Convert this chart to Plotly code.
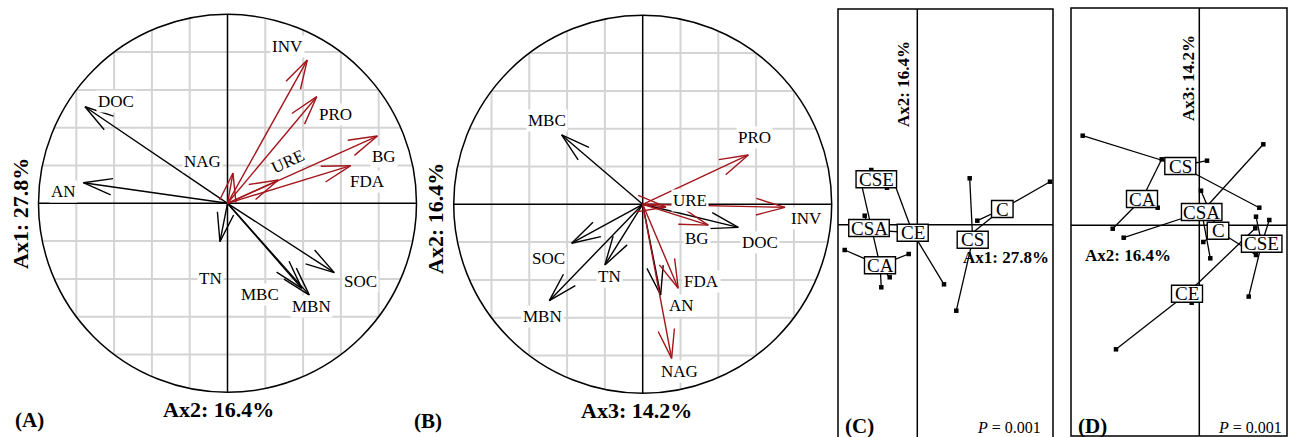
import numpy as np
import plotly.graph_objects as go

W, H = 1290, 437
FONT = "Liberation Serif"
RED = "#A3161B"

# ---------------- Panel A (Ax2 horizontal, Ax1 vertical) ----------------
a_black_vars = ["DOC", "AN", "TN", "MBC", "MBN", "SOC"]
a_black_x = [-0.754, -0.763, -0.040, 0.393, 0.433, 0.565]
a_black_y = [0.511, 0.109, -0.203, -0.450, -0.486, -0.367]
a_red_vars = ["INV", "PRO", "BG", "FDA", "URE", "NAG"]
a_red_x = [0.422, 0.472, 0.793, 0.652, 0.269, 0.029]
a_red_y = [0.758, 0.564, 0.356, 0.199, 0.123, 0.160]
a_lab_vars = ["DOC", "AN", "TN", "MBC", "MBN", "SOC", "INV", "PRO", "BG", "FDA", "URE", "NAG"]
a_lab_x = [-0.59, -0.87, -0.09, 0.17, 0.447, 0.706, 0.315, 0.57, 0.83, 0.74, 0.32, -0.13]
a_lab_y = [0.54, 0.065, -0.40, -0.485, -0.546, -0.414, 0.83, 0.47, 0.25, 0.115, 0.22, 0.22]

# ---------------- Panel B (Ax3 horizontal, Ax2 vertical) ----------------
b_black_vars = ["MBC", "SOC", "MBN", "TN", "DOC", "AN"]
b_black_x = [-0.429, -0.376, -0.494, -0.200, 0.506, 0.095]
b_black_y = [0.367, -0.206, -0.510, -0.321, -0.122, -0.480]
b_red_vars = ["PRO", "INV", "BG", "FDA", "NAG", "URE"]
b_red_x = [0.559, 0.753, 0.347, 0.188, 0.153, 0.123]
b_red_y = [0.261, -0.016, -0.110, -0.444, -0.815, -0.014]
b_lab_vars = ["MBC", "SOC", "MBN", "TN", "DOC", "AN", "PRO", "INV", "BG", "FDA", "NAG", "URE"]
b_lab_x = [-0.508, -0.496, -0.528, -0.178, 0.62, 0.203, 0.589, 0.869, 0.286, 0.312, 0.195, 0.25]
b_lab_y = [0.443, -0.287, -0.594, -0.382, -0.202, -0.533, 0.353, -0.075, -0.181, -0.41, -0.885, 0.02]

# ---------------- Panel C (Ax1 horizontal, Ax2 vertical) ----------------
c_groups = ["CSE", "CSA", "CA", "CE", "CS", "C"]
c_cx = [-0.410, -0.483, -0.373, -0.046, 0.554, 0.850]
c_cy = [0.454, -0.033, -0.406, -0.080, -0.150, 0.157]
c_sample_group = ["CSE", "CSE", "CSA", "CA", "CA", "CA", "CA", "CA",
                  "CE", "CE", "CE", "CS", "CS", "C", "C", "C"]
c_sample_x = [-0.460, -0.303, -0.526, -0.726, -0.086, -0.276, -0.360, -0.560,
              0.267, -0.253, -0.573, 0.524, 0.390, 1.327, 0.600, 0.487]
c_sample_y = [0.547, 0.370, 0.090, -0.253, -0.293, -0.526, -0.626, 0.414,
              -0.596, 0.477, -0.048, 0.464, -0.860, 0.430, 0.040, -0.133]

# ---------------- Panel D (Ax2 horizontal, Ax3 vertical) ----------------
d_groups = ["CS", "CA", "CSA", "C", "CSE", "CE"]
d_cx = [-0.190, -0.573, 0.024, 0.187, 0.624, -0.123]
d_cy = [0.593, 0.263, 0.133, -0.054, -0.184, -0.684]
d_sample_group = ["CS", "CS", "CS", "CA", "CA", "CA", "CSA", "CSA", "CSA",
                  "C", "C", "C", "CSE", "CSE", "CSE", "CE", "CE", "CE"]
d_sample_x = [-1.166, 0.077, 0.600, -0.376, -0.416, -0.866, -0.756, 0.640, 0.110,
              0.017, 0.040, 0.567, 0.567, 0.700, 0.494, -0.833, -0.076, 0.560]
d_sample_y = [0.896, 0.646, 0.176, 0.660, 0.176, -0.034, -0.124, 0.810, -0.330,
              0.346, -0.167, -0.297, 0.086, 0.053, -0.713, -1.240, -0.774, -0.030]

# ---------------- layout geometry (pixels) ----------------
panels = {
    # name: (x0px, x1px, cx, cy, px_per_unit)
    "A": (0, 425, 227.5, 203.3, 189.0),
    "B": (428, 836, 642.7, 204.3, 189.0),
    "C": (838, 1053, 917.3, 224.7, 100.0),
    "D": (1071, 1287, 1199.3, 225.3, 100.0),
}
axis_ids = {"A": "", "B": "2", "C": "3", "D": "4"}

fig = go.Figure()
layout_axes = {}
for name, (x0, x1, cx, cy, s) in panels.items():
    k = axis_ids[name]
    layout_axes["xaxis" + k] = dict(domain=[x0 / W, x1 / W], range=[(x0 - cx) / s, (x1 - cx) / s],
                                    visible=False, showgrid=False, zeroline=False, fixedrange=True,
                                    anchor="y" + k)
    layout_axes["yaxis" + k] = dict(domain=[0, 1], range=[(cy - H) / s, cy / s],
                                    visible=False, showgrid=False, zeroline=False, fixedrange=True,
                                    anchor="x" + k)

shapes = []
annotations = []


def px2paper(px, py):
    return px / W, 1 - py / H


def arrows(xs, ys, L, ang_deg=15):
    X, Y = [], []
    ang = np.deg2rad(ang_deg)
    for x, y in zip(xs, ys):
        n = np.hypot(x, y)
        ux, uy = x / n, y / n
        X += [0, x, None]
        Y += [0, y, None]
        wings = []
        for sgn in (1, -1):
            c, si = np.cos(sgn * ang), np.sin(sgn * ang)
            bx = -ux * c + uy * si
            by = -ux * si - uy * c
            wings.append((x + L * bx, y + L * by))
        X += [wings[0][0], x, wings[1][0], None]
        Y += [wings[0][1], y, wings[1][1], None]
    return X, Y


def corcircle(name, blk_x, blk_y, red_x, red_y, lab_vars, lab_x, lab_y, rot):
    k = axis_ids[name]
    xr, yr = "x" + k, "y" + k
    s = panels[name][4]
    for v in np.round(np.arange(-0.8, 0.81, 0.2), 2):
        if abs(v) < 1e-9:
            continue
        h = float(np.sqrt(1 - v * v))
        shapes.append(dict(type="line", xref=xr, yref=yr, x0=v, x1=v, y0=-h, y1=h,
                           line=dict(color="#D4D4D4", width=2), layer="below"))
        shapes.append(dict(type="line", xref=xr, yref=yr, x0=-h, x1=h, y0=v, y1=v,
                           line=dict(color="#D4D4D4", width=2), layer="below"))
    shapes.append(dict(type="circle", xref=xr, yref=yr, x0=-1, x1=1, y0=-1, y1=1,
                       line=dict(color="black", width=1.5), layer="below"))
    shapes.append(dict(type="line", xref=xr, yref=yr, x0=-1, x1=1, y0=0, y1=0,
                       line=dict(color="black", width=1.5), layer="below"))
    shapes.append(dict(type="line", xref=xr, yref=yr, x0=0, x1=0, y0=-1, y1=1,
                       line=dict(color="black", width=1.5), layer="below"))
    L = 30 / s
    for xs, ys, col in ((blk_x, blk_y, "black"), (red_x, red_y, RED)):
        X, Y = arrows(xs, ys, L, 16)
        fig.add_trace(go.Scatter(x=X, y=Y, mode="lines", xaxis=xr, yaxis=yr,
                                 line=dict(color=col, width=1.4), hoverinfo="skip",
                                 showlegend=False))
    for v, x, y in zip(lab_vars, lab_x, lab_y):
        annotations.append(dict(x=x, y=y, xref=xr, yref=yr, text=v, showarrow=False,
                                font=dict(family=FONT, size=17, color="black"),
                                bgcolor="white", borderpad=1,
                                textangle=rot.get(v, 0)))


corcircle("A", a_black_x, a_black_y, a_red_x, a_red_y, a_lab_vars, a_lab_x, a_lab_y, {"URE": -25})
corcircle("B", b_black_x, b_black_y, b_red_x, b_red_y, b_lab_vars, b_lab_x, b_lab_y, {})


def sclass(name, groups, cx, cy, sg, sx, sy, top_px, bottom_px):
    k = axis_ids[name]
    xr, yr = "x" + k, "y" + k
    x0, x1, pcx, pcy, s = panels[name]
    _, ytop = px2paper(0, top_px)
    _, ybot = px2paper(0, bottom_px)
    shapes.append(dict(type="rect", xref="paper", yref="paper", x0=x0 / W, x1=x1 / W,
                       y0=ybot, y1=ytop, line=dict(color="black", width=1.5), layer="below"))
    shapes.append(dict(type="line", xref=xr, yref="paper", x0=0, x1=0, y0=ybot, y1=ytop,
                       line=dict(color="black", width=1.5), layer="below"))
    shapes.append(dict(type="line", xref="paper", yref=yr, x0=x0 / W, x1=x1 / W, y0=0, y1=0,
                       line=dict(color="black", width=1.5), layer="below"))
    cen = {g: (a, b) for g, a, b in zip(groups, cx, cy)}
    X, Y = [], []
    for g, a, b in zip(sg, sx, sy):
        gx, gy = cen[g]
        X += [gx, a, None]
        Y += [gy, b, None]
    fig.add_trace(go.Scatter(x=X, y=Y, mode="lines", xaxis=xr, yaxis=yr,
                             line=dict(color="black", width=1.3), hoverinfo="skip",
                             showlegend=False))
    fig.add_trace(go.Scatter(x=sx, y=sy, mode="markers", xaxis=xr, yaxis=yr,
                             marker=dict(symbol="square", size=4.5, color="black"),
                             hoverinfo="skip", showlegend=False))
    for g, a, b in zip(groups, cx, cy):
        w = (12 + 9.5 * len(g)) / s
        hh = 17 / s
        shapes.append(dict(type="rect", xref=xr, yref=yr, x0=a - w / 2, x1=a + w / 2,
                           y0=b - hh / 2, y1=b + hh / 2, fillcolor="white",
                           line=dict(color="black", width=1.4), layer="above"))
        annotations.append(dict(x=a, y=b, xref=xr, yref=yr, text=g, showarrow=False,
                                font=dict(family=FONT, size=19, color="black")))


sclass("C", c_groups, c_cx, c_cy, c_sample_group, c_sample_x, c_sample_y, 9, 445)
sclass("D", d_groups, d_cx, d_cy, d_sample_group, d_sample_x, d_sample_y, 8, 436)


def ptext(px, py, text, size, bold=True, angle=0, xanchor="center"):
    x, y = px2paper(px, py)
    annotations.append(dict(x=x, y=y, xref="paper", yref="paper", text=text, showarrow=False,
                            xanchor=xanchor, yanchor="middle", textangle=angle,
                            font=dict(family=FONT, size=size, color="black",
                                      weight="bold" if bold else "normal")))


ptext(20, 214, "Ax1: 27.8%", 22, angle=-90)
ptext(218.5, 409, "Ax2: 16.4%", 22)
ptext(29, 420, "(A)", 21)
ptext(435, 219, "Ax2: 16.4%", 22, angle=-90)
ptext(636, 410, "Ax3: 14.2%", 22)
ptext(428, 421, "(B)", 21)
ptext(903, 84, "Ax2: 16.4%", 17, angle=-90)
ptext(1051, 257, "Ax1: 27.8%", 17, xanchor="right")
ptext(859, 426, "(C)", 21)
ptext(1043, 427, "<i>P</i> = 0.001", 16, bold=False, xanchor="right")
ptext(1189, 78, "Ax3: 14.2%", 17, angle=-90)
ptext(1083, 255, "Ax2: 16.4%", 17, xanchor="left")
ptext(1092.5, 426, "(D)", 21)
ptext(1284, 427, "<i>P</i> = 0.001", 16, bold=False, xanchor="right")

fig.update_layout(width=W, height=H, margin=dict(l=0, r=0, t=0, b=0),
                  paper_bgcolor="white", plot_bgcolor="white",
                  shapes=shapes, annotations=annotations, showlegend=False,
                  **layout_axes)
fig.write_html("out.html", config={"displayModeBar": False},
               post_script="document.body.style.margin='0px';document.body.style.overflow='hidden';")
